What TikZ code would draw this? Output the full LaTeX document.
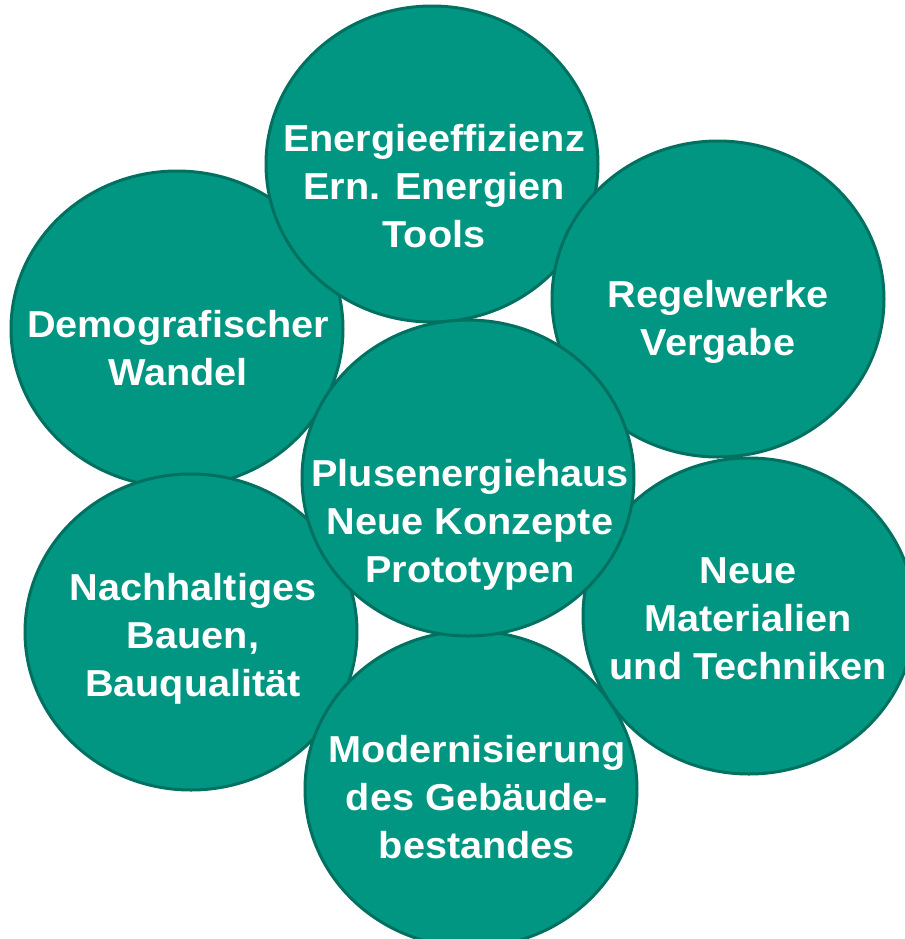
\documentclass[tikz,border=0pt]{standalone}
\usepackage{fontspec}
\setmainfont{Liberation Sans}[FakeStretch=1.057]
\usetikzlibrary{shapes.geometric}
\definecolor{bubblefill}{RGB}{0,150,130}
\definecolor{bubbleline}{RGB}{0,112,96}

\begin{document}
\begin{tikzpicture}[x=0.5pt,y=-0.5pt,
    bubble/.style={shape=ellipse,draw=bubbleline,fill=bubblefill,line width=1.5pt,
        minimum width=166pt,minimum height=158pt,inner sep=0pt},
    txt/.style={text=white,align=center,inner sep=0pt,
        font=\bfseries\fontsize{18.75}{24}\selectfont}]
    \useasboundingbox (0,0) rectangle (905,939);
    \node[bubble] (D) at (177,329) {};
    \node[bubble] (E) at (432,164) {};
    \node[bubble] (R) at (718,299) {};
    \node[bubble] (B) at (191,632) {};
    \node[bubble] (M) at (471,789) {};
    \node[bubble] (N) at (749,616) {};
    \node[bubble] (P) at (468,478) {};
    \node[txt] (tD) at (178,348) {Demografischer\\Wandel};
    \node[txt] (tE) at (434,186) {Energieeffizienz\\Ern. Energien\\Tools};
    \node[txt] (tR) at (718,322) {Regelwerke\\Vergabe};
    \node[txt] (tB) at (193,639) {Nachhaltiges\\Bauen,\\Bauqualität};
    \node[txt] (tM) at (477,797) {Modernisierung\\des Gebäude-\\bestandes};
    \node[txt] (tN) at (748,619) {Neue\\Materialien\\und Techniken};
    \node[txt] (tP) at (470,525) {Plusenergiehaus\\Neue Konzepte\\Prototypen};
\end{tikzpicture}
\end{document}
